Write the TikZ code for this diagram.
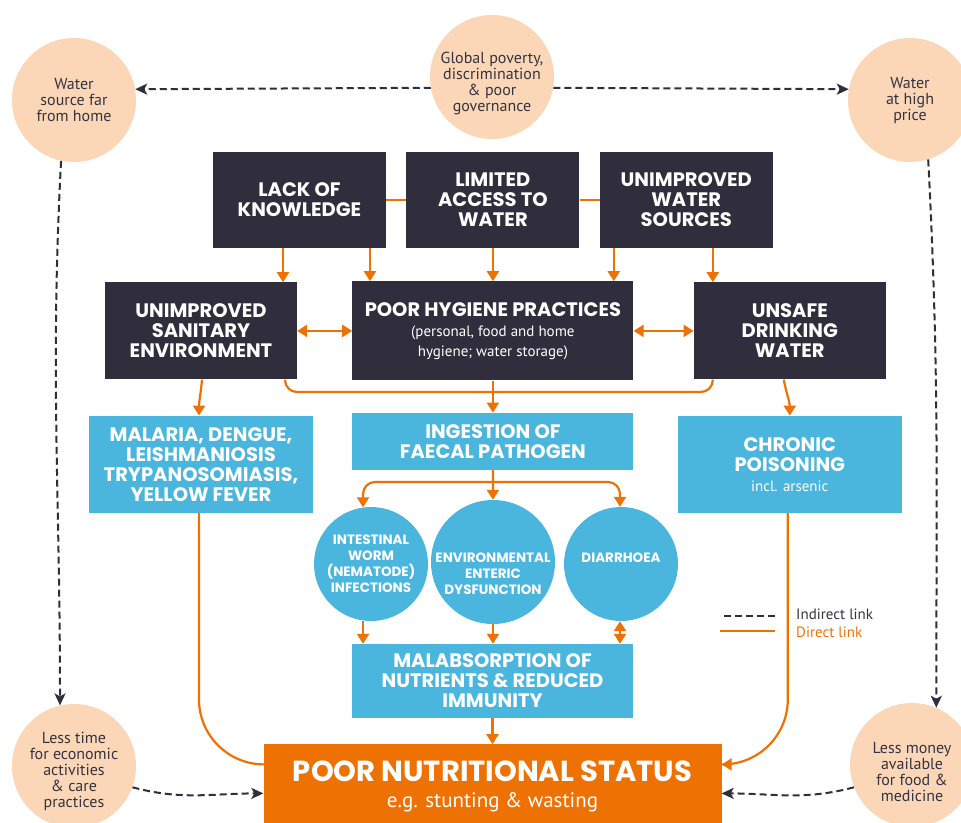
\documentclass[tikz,border=0pt]{standalone}
\usepackage{fontspec}
\setmainfont{PT Sans}
\newfontfamily\headfont{Poppins}
\usetikzlibrary{arrows.meta,positioning,calc}

\definecolor{darkc}{HTML}{302D3D}
\definecolor{bluec}{HTML}{4AB6DD}
\definecolor{orangec}{HTML}{EE7203}
\definecolor{peachc}{HTML}{FBD7B8}
\definecolor{textc}{HTML}{35333F}

\newcommand{\subtxt}{\normalfont\fontsize{15}{20}\selectfont}

\begin{document}
\begin{tikzpicture}[x=1pt,y=1pt,line join=round,
    dark node/.style={rectangle,fill=darkc,text=white,inner sep=0pt,align=center,font=\headfont\bfseries\fontsize{19.5}{20}\selectfont},
    blue node/.style={rectangle,fill=bluec,text=white,inner sep=0pt,align=center,font=\headfont\bfseries\fontsize{19.5}{20}\selectfont},
    blue circle/.style={circle,fill=bluec,text=white,inner sep=0pt,align=center,font=\headfont\bfseries\fontsize{13.5}{16}\selectfont},
    blue label/.style={text=white,inner sep=0pt,align=center,font=\headfont\bfseries\fontsize{13.5}{16}\selectfont},
    big node/.style={rectangle,fill=orangec,text=white,inner sep=0pt,align=center,minimum width=458pt,minimum height=84pt},
    peach node/.style={circle,fill=peachc,minimum size=124pt,inner sep=0pt},
    peach text/.style={text=textc,align=center,inner sep=0pt,font=\fontsize{16}{16}\selectfont},
    legend text/.style={anchor=west,inner sep=0pt,font=\fontsize{15}{16}\selectfont},
    link/.style={draw=orangec,line width=2.2pt},
    direct/.style={link,-{Triangle[length=10pt,width=12pt]}},
    both/.style={link,{Triangle[length=10pt,width=12pt]}-{Triangle[length=10pt,width=12pt]}},
    dashes/.style={draw=darkc,line width=2pt,dash pattern=on 7pt off 4pt},
    indirect/.style={dashes,-{Stealth[length=12pt,width=11pt,inset=3pt]}}]

    \useasboundingbox (0,0) rectangle (961,-822);

    % causes
    \node[dark node,minimum width=173pt,minimum height=96pt] (1) at (299.5,-200) {LACK OF\\KNOWLEDGE};
    \node[dark node,minimum width=173pt,minimum height=96pt] (2) [right=20pt of 1] {LIMITED\\ACCESS TO\\WATER};
    \node[dark node,minimum width=173pt,minimum height=96pt] (3) [right=20pt of 2] {UNIMPROVED\\WATER\\SOURCES};
    \node[dark node,minimum width=281pt,minimum height=99pt] (5) [below=33pt of 2]
        {POOR HYGIENE PRACTICES\\ \subtxt (personal, food and home\\ \subtxt hygiene; water storage)};
    \node[dark node,minimum width=192pt,minimum height=97pt] (4) [left=55pt of 5] {UNIMPROVED\\SANITARY\\ENVIRONMENT};
    \node[dark node,minimum width=192pt,minimum height=97pt] (6) [right=60pt of 5] {UNSAFE\\DRINKING\\WATER};

    % effects
    \node[blue node,minimum width=224pt,minimum height=97pt] (7) [below=36pt of 4] {MALARIA, DENGUE,\\LEISHMANIOSIS\\TRYPANOSOMIASIS,\\YELLOW FEVER};
    \node[blue node,minimum width=281pt,minimum height=57pt] (8) [below=32pt of 5] {INGESTION OF\\FAECAL PATHOGEN};
    \node[blue node,minimum width=224pt,minimum height=97pt] (9) [below=36pt of 6] {CHRONIC\\POISONING\\ \subtxt incl. arsenic};
    \node[blue circle,minimum size=114pt] (10) at (371,-564) {INTESTINAL\\WORM\\(NEMATODE)\\INFECTIONS};
    \node[blue circle,minimum size=124pt,label={[blue label,yshift=-12pt]center:{ENVIRONMENTAL\\ENTERIC\\DYSFUNCTION}}] (11) at (493,-562) {};
    \node[blue circle,minimum size=114pt,label={[blue label,yshift=6pt]center:{DIARRHOEA}}] (12) at (621,-564) {};
    \node[blue node,minimum width=281pt,minimum height=74pt] (13) at (492.5,-681) {MALABSORPTION OF\\NUTRIENTS \& REDUCED\\IMMUNITY};
    \node[big node] (14) [below=26pt of 13]
        {\headfont\bfseries\fontsize{29}{30}\selectfont POOR NUTRITIONAL STATUS\\[10pt] \fontsize{21}{22}\selectfont e.g. stunting \& wasting};

    % context
    \node[peach node,label={[peach text]center:{Water\\source far\\from home}}] (15) at (74,-100) {};
    \node[peach node,label={[peach text,yshift=-6pt]center:{Global poverty,\\discrimination\\\& poor\\governance}}] (16) at (492,-77) {};
    \node[peach node,label={[peach text]center:{Water\\at high\\price}}] (17) at (910,-100) {};
    \node[peach node,label={[peach text,yshift=-5pt]center:{Less time\\for economic\\activities\\\& care\\practices}}] (18) at (74,-766) {};
    \node[peach node,label={[peach text,yshift=-7pt]center:{Less money\\available\\for food \&\\medicine}}] (19) at (912,-765) {};

    % legend
    \node[legend text,text=textc] (l1) at (796,-614) {Indirect link};
    \node[legend text,text=orangec] (l2) at (796,-632) {Direct link};
    \draw[dashes] ([xshift=-21pt,yshift=-2pt]l1.west) -- ++(-55,0);
    \draw[link] ([xshift=-21pt,yshift=1pt]l2.west) -- ++(-55,0);

    % indirect links
    \draw[indirect] (16.190) -- (15.10);
    \draw[indirect] (16.-10) -- (17.170);
    \draw[indirect] (15.258) to[out=-93,in=90] (18.103);
    \draw[indirect] (17.287) to[out=-87,in=90] (19.67);
    \draw[indirect] (18.-20) to[out=-15,in=180] ([yshift=-7pt]14.west);
    \draw[indirect] (19.201) to[out=195,in=0] ([yshift=-7pt]14.east);

    % direct links
    \path[link] (1) edge (2) (2) edge (3);
    \draw[direct] ([xshift=-16.5pt]1.south) -- ([xshift=-16.5pt]1.south |- 4.north);
    \draw[direct] ([xshift=70.5pt]1.south) -- ([xshift=70.5pt]1.south |- 5.north);
    \draw[direct] (2) -- (5);
    \draw[direct] ([xshift=-72.5pt]3.south) -- ([xshift=-72.5pt]3.south |- 5.north);
    \draw[direct] ([xshift=26.5pt]3.south) -- ([xshift=26.5pt]3.south |- 6.north);
    \draw[both] (4.east) -- (4.east -| 5.west);
    \draw[both] (5.east) -- (5.east -| 6.west);
    \draw[direct] ([xshift=1pt]4.south) to[out=-95,in=90] ([xshift=-2pt]7.north);
    \draw[direct] ([xshift=-6pt]6.south) to[out=-80,in=90] (9.north);
    \coordinate (m) at (492.5,-392);
    \draw[link,rounded corners=12pt] ([xshift=84pt]4.south) |- (m) -| ([xshift=-77pt]6.south);
    \draw[direct] (5) -- (8);
    \draw[direct] (8) -- (11);
    \coordinate (s) at (493,-482);
    \draw[direct,rounded corners=12pt] (s) -| (10.98);
    \draw[direct,rounded corners=12pt] (s) -| (12.91);
    \draw[direct] (10.262) -- (10.262 |- 13.north);
    \draw[direct] (11) -- (11 |- 13.north);
    \draw[both] (12.269) -- (12.269 |- 13.north);
    \draw[direct] (13) -- (14);
    \draw[direct,rounded corners=65pt] ([xshift=-2pt]7.south) |- ([yshift=22pt]14.west);
    \draw[direct,rounded corners=65pt] ([xshift=-2pt]9.south) |- ([yshift=22pt]14.east);
\end{tikzpicture}
\end{document}
